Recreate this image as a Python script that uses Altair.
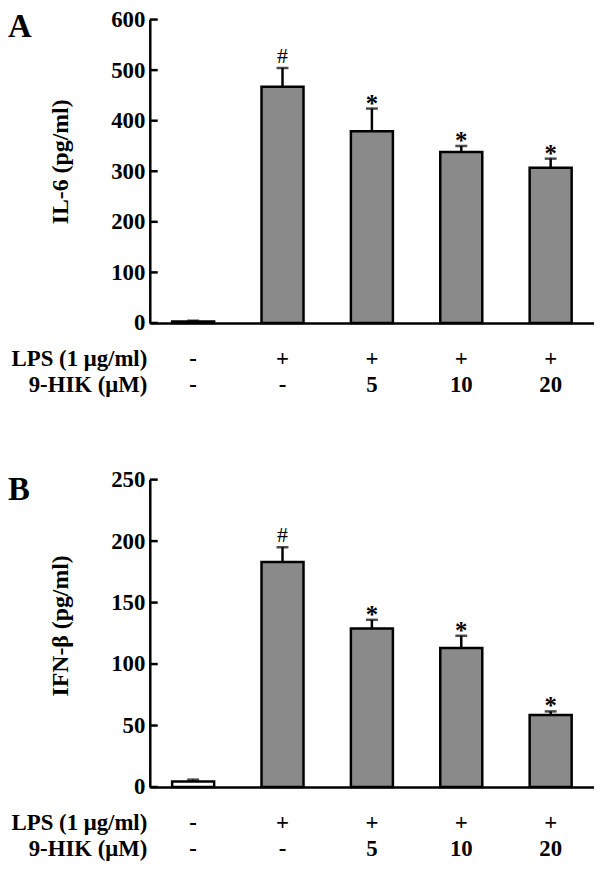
import altair as alt
import pandas as pd

# ---- data ----
lps_row = ["-", "+", "+", "+", "+"]
hik_row = ["-", "-", "5", "10", "20"]
il6_mean = [3, 467, 379, 338, 307]
il6_err = [1.5, 37, 45, 12, 18]
ifn_mean = [4.5, 183, 129, 113, 58.5]
ifn_err = [1.5, 12, 7, 10, 3]
sig = ["", "#", "*", "*", "*"]
fills = ["white", "#8a8a8a", "#8a8a8a", "#8a8a8a", "#8a8a8a"]
il6_ticks = [0, 100, 200, 300, 400, 500, 600]
ifn_ticks = [0, 50, 100, 150, 200, 250]
row_titles = ["LPS (1 μg/ml)", "9-HIK (μM)"]

FONT = "Liberation Serif, Times New Roman, serif"
keys = [f"{a}|{b}" for a, b in zip(lps_row, hik_row)]


def panel(letter, letter_y, ytitle, means, errs, ticks, height, title_y):
    df = pd.DataFrame({
        "group": keys,
        "v": means,
        "hi": [m + e for m, e in zip(means, errs)],
        "sym": sig,
        "fill": fills,
    })
    tdf = pd.DataFrame({"v": ticks})
    xscale = alt.Scale(domain=keys, paddingInner=0.53, paddingOuter=0.25)
    yscale = alt.Scale(domain=[ticks[0], ticks[-1]], nice=False, zero=True)
    xaxis = alt.Axis(
        title=row_titles, labelExpr="split(datum.label, '|')", labelAngle=0,
        ticks=False, domainWidth=2.5, domainColor="black", grid=False,
        labelFont=FONT, labelFontWeight="bold", labelFontSize=23, labelColor="black",
        labelLineHeight=26, labelPadding=25, labelBaseline="top",
        titleFont=FONT, titleFontSize=23, titleFontWeight="bold", titleColor="black",
        titleAlign="right", titleX=-3, titleY=25, titleBaseline="top",
        titleLineHeight=26, titleAngle=0,
    )
    yaxis = alt.Axis(
        title=ytitle, values=ticks, ticks=False, grid=False,
        domainWidth=2.5, domainColor="black",
        labelFont=FONT, labelFontWeight="bold", labelFontSize=23, labelColor="black",
        labelPadding=5,
        titleFont=FONT, titleFontSize=24, titleFontWeight="bold", titleColor="black",
        titlePadding=38, titleY=title_y,
    )
    X = alt.X("group:N", scale=xscale, axis=xaxis, sort=keys)
    base = alt.Chart(df)
    bars = base.mark_bar(stroke="black", strokeWidth=2.5).encode(
        x=X, y=alt.Y("v:Q", scale=yscale, axis=yaxis),
        fill=alt.Color("fill:N", scale=None),
    )
    err = base.mark_rule(color="black", strokeWidth=2.5).encode(
        x=X, y=alt.Y("v:Q", scale=yscale, axis=yaxis), y2="hi:Q"
    )
    cap = base.mark_tick(color="black", thickness=2.5, size=12).encode(
        x=X, y=alt.Y("hi:Q", scale=yscale, axis=yaxis)
    )
    hash_t = base.transform_filter("datum.sym == '#'").mark_text(
        font=FONT, fontSize=22, fontWeight="normal", baseline="alphabetic", dy=-5, color="black"
    ).encode(x=X, y=alt.Y("hi:Q", scale=yscale, axis=yaxis), text="sym:N")
    star_t = base.transform_filter("datum.sym == '*'").mark_text(
        font=FONT, fontSize=25, fontWeight="bold", baseline="alphabetic", dy=3, color="black"
    ).encode(x=X, y=alt.Y("hi:Q", scale=yscale, axis=yaxis), text="sym:N")
    tickr = alt.Chart(tdf).mark_rule(color="black", strokeWidth=2.5).encode(
        x=alt.value(0), x2=alt.value(8), y=alt.Y("v:Q", scale=yscale, axis=yaxis)
    )
    let = alt.Chart(pd.DataFrame({"t": [letter]})).mark_text(
        font=FONT, fontSize=33, fontWeight="bold", align="left", baseline="alphabetic", color="black"
    ).encode(text="t:N", x=alt.value(-143), y=alt.value(letter_y))
    return alt.layer(bars, err, cap, hash_t, star_t, tickr, let).properties(width=448, height=height)


top = panel("A", 18, "IL-6 (pg/ml)", il6_mean, il6_err, il6_ticks, 306, 143)
bottom = panel("B", 21, "IFN-β (pg/ml)", ifn_mean, ifn_err, ifn_ticks, 310, 147)

chart = (
    alt.vconcat(top, bottom, spacing=73)
    .properties(padding={"top": -3, "left": 0, "right": 0, "bottom": 0})
    .configure(font=FONT)
    .configure_view(stroke=None)
)
chart.save("out.html", embed_options={"renderer": "svg", "actions": False})
